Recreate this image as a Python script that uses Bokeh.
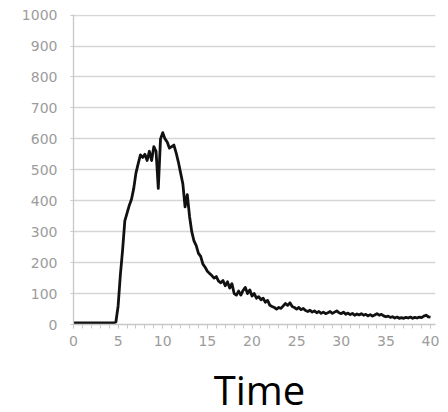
from bokeh.plotting import figure
from bokeh.models import Range1d, FixedTicker, Label
from bokeh.embed import file_html
from bokeh.resources import INLINE

# sample step (time units) of the recorded trace
step = 0.25
signal = [
    5, 5, 5, 5, 5, 5, 5, 5, 5, 5, 5, 5, 5, 5, 5, 5, 5, 5, 5,      # 0 .. 4.5
    8, 60, 160, 240, 335, 360, 385, 405, 440, 490, 520, 548,      # 4.75 .. 7.5
    540, 550, 530, 560, 530, 575, 560, 440, 600, 620, 600, 590,   # 7.75 .. 10.5
    570, 575, 580, 555, 525, 490, 455, 380, 420, 350, 300, 270,   # 10.75 .. 13.5
    255, 230, 220, 195, 185, 172, 165, 158, 150, 155, 140, 135,   # 13.75 .. 16.5
    142, 125, 138, 118, 132, 100, 95, 108, 95, 110, 120, 100,     # 16.75 .. 19.5
    112, 92, 100, 85, 90, 80, 85, 72, 78, 62, 58, 55,             # 19.75 .. 22.5
    50, 55, 52, 60, 68, 62, 70, 58, 55, 50, 55, 48,               # 22.75 .. 25.5
    52, 45, 42, 46, 40, 44, 38, 42, 36, 40, 35, 38,               # 25.75 .. 28.5
    42, 36, 40, 44, 38, 35, 40, 33, 37, 32, 36, 30,               # 28.75 .. 31.5
    34, 31, 35, 30, 33, 28, 32, 27, 31, 35, 30, 33,               # 31.75 .. 34.5
    28, 25, 27, 23, 25, 21, 24, 20, 22, 20, 23, 21,               # 34.75 .. 37.5
    24, 20, 23, 21, 24, 22, 27, 30, 25, 24,                       # 37.75 .. 40
]
time = [i * step for i in range(len(signal))]

x_ticks = [0, 5, 10, 15, 20, 25, 30, 35, 40]
y_ticks = [0, 100, 200, 300, 400, 500, 600, 700, 800, 900, 1000]
x_label = "Time"

p = figure(width=448, height=412, output_backend="svg", toolbar_location=None,
           x_range=Range1d(0, 40.56), y_range=Range1d(0, 1002),
           min_border_left=73, min_border_right=13, min_border_top=14,
           min_border_bottom=88)
p.outline_line_color = None
p.background_fill_color = "white"
p.border_fill_color = "white"

p.line(time, signal, line_color="#111111", line_width=2.8, line_join="round")

grid_col = "#d6d6d6"
axis_col = "#c8c8c8"
lab_col = "#9c9c9c"

p.xgrid.visible = False
p.ygrid.grid_line_color = grid_col
p.ygrid.grid_line_width = 1.3
p.ygrid.ticker = FixedTicker(ticks=y_ticks)

xa = p.xaxis[0]
xa.ticker = FixedTicker(ticks=x_ticks, minor_ticks=list(range(0, 41)))
xa.axis_line_color = axis_col
xa.axis_line_width = 1.3
xa.major_tick_line_color = axis_col
xa.minor_tick_line_color = axis_col
xa.major_tick_out = 4
xa.major_tick_in = 0
xa.minor_tick_out = 4
xa.minor_tick_in = 0
xa.major_label_text_font = "DejaVu Sans"
xa.major_label_text_font_size = "14px"
xa.major_label_text_color = lab_col
xa.major_label_standoff = 7

ya = p.yaxis[0]
ya.ticker = FixedTicker(ticks=y_ticks)
ya.axis_line_color = axis_col
ya.axis_line_width = 1.3
ya.major_tick_line_color = axis_col
ya.major_tick_out = 3
ya.major_tick_in = 0
ya.minor_tick_line_color = None
ya.major_label_text_font = "DejaVu Sans"
ya.major_label_text_font_size = "14px"
ya.major_label_text_color = lab_col
ya.major_label_standoff = 13

# caption placed in the bottom side panel so it is not clipped to the frame
p.add_layout(Label(x=20.84, y=0, y_offset=-65, text=x_label,
                   text_font="Open Sans", text_font_size="40px",
                   text_color="black", text_align="center",
                   text_baseline="alphabetic"), "below")

open("out.html", "w").write(file_html(p, INLINE))
